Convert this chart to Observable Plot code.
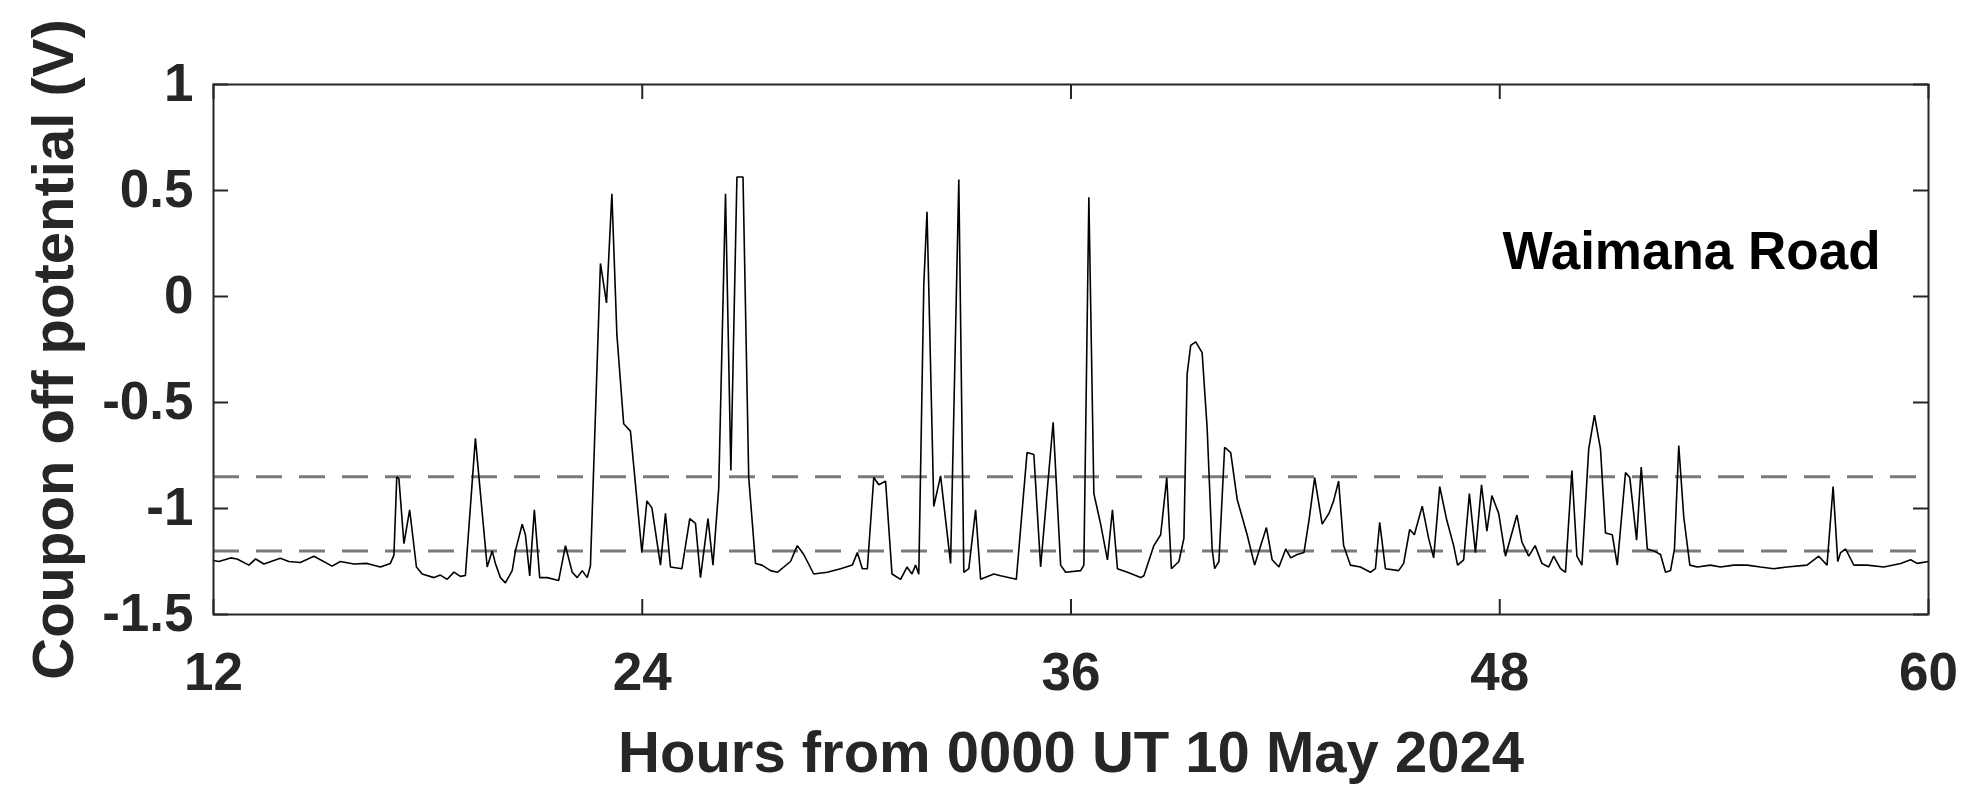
<!DOCTYPE html>
<html>
<head>
<meta charset="utf-8">
<script src="https://cdn.jsdelivr.net/npm/d3@7"></script>
<script src="https://cdn.jsdelivr.net/npm/@observablehq/plot@0.6"></script>
<style>
  html, body { margin: 0; padding: 0; background: #fff; }
</style>
</head>
<body>
<div id="chart"></div>
<script>
// Coupon off potential at Waimana Road, hours from 0000 UT 10 May 2024
const hours = [
  12.00, 12.15, 12.48, 12.66, 12.99, 13.18, 13.41, 13.87, 14.11, 14.43,
  14.81, 15.32, 15.55, 15.93, 16.30, 16.67, 16.95, 17.05, 17.13, 17.19,
  17.33, 17.49, 17.68, 17.84, 18.17, 18.35, 18.54, 18.73, 18.91, 19.05,
  19.33, 19.66, 19.80, 19.89, 20.03, 20.17, 20.36, 20.45, 20.64, 20.73,
  20.85, 20.98, 21.13, 21.34, 21.66, 21.85, 22.04, 22.18, 22.32, 22.46,
  22.55, 22.83, 23.00, 23.15, 23.29, 23.48, 23.67, 23.99, 24.13, 24.27,
  24.51, 24.65, 24.79, 25.11, 25.33, 25.49, 25.63, 25.84, 25.98, 26.14,
  26.33, 26.48, 26.65, 26.82, 26.98, 27.17, 27.35, 27.59, 27.78, 28.15,
  28.34, 28.52, 28.80, 29.18, 29.55, 29.88, 30.02, 30.16, 30.30, 30.48,
  30.62, 30.81, 30.99, 31.23, 31.41, 31.55, 31.65, 31.74, 31.88, 31.97,
  32.16, 32.35, 32.63, 32.86, 33.00, 33.14, 33.33, 33.47, 33.84, 34.03,
  34.47, 34.77, 34.96, 35.15, 35.50, 35.71, 35.85, 36.27, 36.36, 36.50,
  36.64, 36.83, 37.02, 37.16, 37.30, 37.58, 37.95, 38.04, 38.32, 38.51,
  38.68, 38.81, 39.02, 39.16, 39.25, 39.35, 39.49, 39.67, 39.81, 39.95,
  40.02, 40.14, 40.30, 40.47, 40.65, 40.93, 41.14, 41.31, 41.47, 41.63,
  41.82, 42.01, 42.15, 42.33, 42.52, 42.66, 42.82, 43.03, 43.22, 43.35,
  43.49, 43.63, 43.82, 44.10, 44.38, 44.52, 44.64, 44.80, 45.17, 45.31,
  45.48, 45.61, 45.83, 46.01, 46.15, 46.32, 46.52, 46.71, 46.82, 46.99,
  47.15, 47.32, 47.49, 47.64, 47.78, 47.97, 48.16, 48.48, 48.62, 48.81,
  48.99, 49.18, 49.37, 49.51, 49.70, 49.84, 50.02, 50.16, 50.30, 50.49,
  50.65, 50.82, 50.96, 51.15, 51.29, 51.52, 51.64, 51.83, 51.96, 52.13,
  52.31, 52.50, 52.64, 52.78, 52.89, 53.01, 53.15, 53.32, 53.53, 53.90,
  54.18, 54.55, 54.92, 55.30, 55.67, 56.04, 56.60, 56.93, 57.02, 57.16,
  57.33, 57.46, 57.54, 57.68, 57.91, 58.28, 58.75, 59.22, 59.50, 59.68,
  60.00
];
const potential = [
  -1.245, -1.250, -1.233, -1.238, -1.267, -1.238, -1.262, -1.235, -1.250, -1.255,
  -1.225, -1.272, -1.250, -1.262, -1.259, -1.276, -1.259, -1.220, -0.850, -0.860,
  -1.166, -1.006, -1.276, -1.309, -1.326, -1.314, -1.334, -1.300, -1.320, -1.316,
  -0.669, -1.276, -1.200, -1.259, -1.326, -1.351, -1.293, -1.200, -1.074, -1.124,
  -1.318, -1.006, -1.326, -1.326, -1.340, -1.175, -1.301, -1.326, -1.293, -1.326,
  -1.270, 0.156, -0.030, 0.485, -0.180, -0.600, -0.635, -1.208, -0.964, -0.997,
  -1.267, -1.023, -1.276, -1.284, -1.048, -1.070, -1.326, -1.048, -1.267, -0.905,
  0.485, -0.821, 0.564, 0.564, -0.854, -1.259, -1.267, -1.293, -1.301, -1.250,
  -1.175, -1.217, -1.309, -1.301, -1.284, -1.267, -1.208, -1.284, -1.284, -0.854,
  -0.888, -0.871, -1.309, -1.334, -1.276, -1.309, -1.267, -1.310, 0.055, 0.400,
  -0.990, -0.846, -1.259, 0.552, -1.301, -1.284, -1.006, -1.334, -1.309, -1.317,
  -1.334, -0.736, -0.745, -1.276, -0.593, -1.267, -1.301, -1.293, -1.267, 0.468,
  -0.930, -1.074, -1.242, -1.006, -1.284, -1.301, -1.326, -1.317, -1.175, -1.124,
  -0.854, -1.284, -1.250, -1.141, -0.366, -0.231, -0.214, -0.265, -0.619, -1.191,
  -1.284, -1.250, -0.711, -0.736, -0.956, -1.124, -1.267, -1.175, -1.090, -1.242,
  -1.276, -1.191, -1.233, -1.217, -1.208, -1.057, -0.854, -1.074, -1.023, -0.964,
  -0.871, -1.175, -1.267, -1.276, -1.301, -1.284, -1.065, -1.284, -1.293, -1.259,
  -1.099, -1.124, -0.989, -1.141, -1.233, -0.897, -1.057, -1.175, -1.267, -1.242,
  -0.930, -1.208, -0.888, -1.107, -0.939, -1.023, -1.225, -1.031, -1.158, -1.225,
  -1.175, -1.259, -1.276, -1.225, -1.284, -1.301, -0.821, -1.225, -1.267, -0.720,
  -0.560, -0.720, -1.116, -1.124, -1.267, -0.830, -0.854, -1.149, -0.804, -1.191,
  -1.200, -1.217, -1.301, -1.293, -1.191, -0.703, -1.040, -1.267, -1.276, -1.267,
  -1.276, -1.267, -1.267, -1.276, -1.284, -1.276, -1.267, -1.225, -1.242, -1.267,
  -0.897, -1.250, -1.208, -1.191, -1.267, -1.267, -1.276, -1.259, -1.242, -1.259,
  -1.250
];

// Protection criteria drawn as dashed reference lines (V)
const criteria = [-0.85, -1.2];

const xTicks = [12, 24, 36, 48, 60];
const xTickLabels = ["12", "24", "36", "48", "60"];
const yTicks = [-1.5, -1, -0.5, 0, 0.5, 1];
const yTickLabels = ["-1.5", "-1", "-0.5", "0", "0.5", "1"];

const siteName = "Waimana Road";
const xLabel = "Hours from 0000 UT 10 May 2024";
const yLabel = "Coupon off potential (V)";

const W = 1967, H = 785;
const mTop = 84, mRight = 39, mBottom = 171, mLeft = 213;
const plotH = H - mTop - mBottom;
const plotW = W - mLeft - mRight;
const tickLen = 15;
const axisColor = "#262626";

const series = hours.map((h, i) => ({h, v: potential[i]}));

const chart = Plot.plot({
  width: W,
  height: H,
  marginTop: mTop,
  marginRight: mRight,
  marginBottom: mBottom,
  marginLeft: mLeft,
  style: {
    fontFamily: "Arial, 'Liberation Sans', Helvetica, sans-serif",
    fontWeight: "bold",
    background: "#ffffff",
    color: axisColor,
    overflow: "visible"
  },
  x: {domain: [12, 60]},
  y: {domain: [-1.5, 1]},
  marks: [
    Plot.ruleY(criteria, {stroke: "#7a7a7a", strokeWidth: 3, strokeDasharray: "26,17"}),
    Plot.line(series, {x: "h", y: "v", stroke: "#000", strokeWidth: 1.6, strokeLinejoin: "miter"}),
    // inward ticks on all four sides
    Plot.tickX(xTicks, {x: d => d, insetTop: plotH - tickLen, stroke: axisColor, strokeWidth: 2}),
    Plot.tickX(xTicks, {x: d => d, insetBottom: plotH - tickLen, stroke: axisColor, strokeWidth: 2}),
    Plot.tickY(yTicks, {y: d => d, insetRight: plotW - tickLen, stroke: axisColor, strokeWidth: 2}),
    Plot.tickY(yTicks, {y: d => d, insetLeft: plotW - tickLen, stroke: axisColor, strokeWidth: 2}),
    Plot.frame({stroke: axisColor, strokeWidth: 2}),
    Plot.axisX({
      ticks: xTicks, tickSize: 0, tickPadding: 38, fontSize: 53,
      tickFormat: d => xTickLabels[xTicks.indexOf(d)], label: null
    }),
    Plot.axisY({
      ticks: yTicks, tickSize: 0, tickPadding: 20, fontSize: 53,
      tickFormat: d => yTickLabels[yTicks.indexOf(d)], label: null
    }),
    Plot.text([xLabel], {
      text: d => d, frameAnchor: "bottom", lineAnchor: "top",
      dy: 116, fontSize: 58, fill: axisColor
    }),
    Plot.text([yLabel], {
      text: d => d, frameAnchor: "left", rotate: -90, textAnchor: "middle",
      lineAnchor: "middle", dx: -159, fontSize: 58, fill: axisColor
    }),
    Plot.text([siteName], {
      text: d => d, x: 48.08, y: 0.21, textAnchor: "start", lineAnchor: "middle",
      fontSize: 53, fill: "#000"
    })
  ]
});

document.getElementById("chart").appendChild(chart);
</script>
</body>
</html>
